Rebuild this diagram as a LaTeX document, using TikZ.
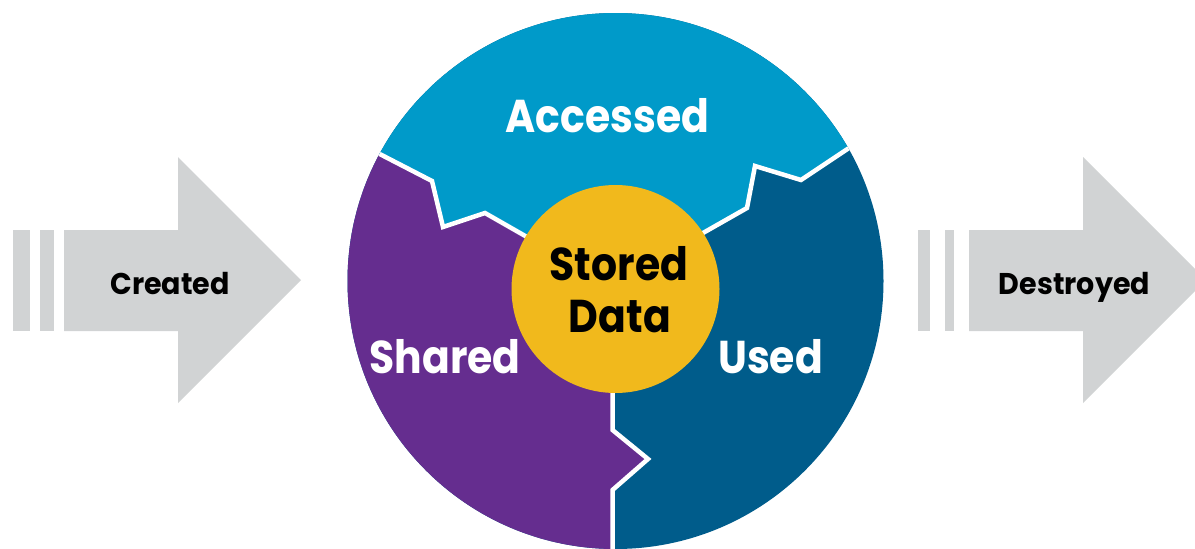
\documentclass[tikz,border=0pt]{standalone}
\usepackage{fontspec}
\setmainfont{Poppins}
\newfontfamily\bigfont{Poppins}[FakeStretch=0.89]
\newfontfamily\smallfont{Poppins}[FakeStretch=0.95]
\definecolor{accessblue}{HTML}{009AC9}
\definecolor{useblue}{HTML}{005C8B}
\definecolor{sharepurple}{HTML}{652D8F}
\definecolor{storeyellow}{HTML}{F1B91C}
\definecolor{arrowgray}{HTML}{D1D3D4}
\tikzset{
  stagearrow/.style={fill=arrowgray, draw=none},
  seam/.style={draw=white, line width=4.5pt, line join=miter},
  ringlabel/.style={text=white, font=\bigfont\bfseries\fontsize{46}{46}\selectfont, inner sep=0pt, anchor=base},
  corelabel/.style={text=black, font=\bigfont\bfseries\fontsize{46}{46}\selectfont, inner sep=0pt, anchor=base},
  arrowlabel/.style={text=black, font=\smallfont\bfseries\fontsize{30}{30}\selectfont, inner sep=0pt, anchor=base}
}
\begin{document}
\begin{tikzpicture}[x=1pt, y=-1pt]
  \useasboundingbox (0,0) rectangle (1195,549);
  \clip (0,0) rectangle (1195,549);

  % incoming arrow
  \fill[stagearrow] (13,230) rectangle (30,331);
  \fill[stagearrow] (40,230) rectangle (54,331);
  \fill[stagearrow] (64,230) -- (178,230) -- (178,157) -- (301,280)
                    -- (178,403) -- (178,331) -- (64,331) -- cycle;
  % outgoing arrow
  \fill[stagearrow] (918,230) rectangle (930,331);
  \fill[stagearrow] (945,230) rectangle (954,331);
  \fill[stagearrow] (969,230) -- (1083,230) -- (1083,157) -- (1206,280)
                    -- (1083,403) -- (1083,331) -- (969,331) -- cycle;

  % seam points
  \coordinate (core) at (615.5,289);
  \coordinate (a1) at (370,149);
  \coordinate (a2) at (432,181);
  \coordinate (a3) at (443,227);
  \coordinate (a4) at (485,213);
  \coordinate (a5) at (527,237);
  \coordinate (b1) at (858,142);
  \coordinate (b2) at (801,180);
  \coordinate (b3) at (755,166);
  \coordinate (b4) at (747,208);
  \coordinate (b5) at (703,233);
  \coordinate (c1) at (612.5,289);
  \coordinate (c2) at (612.5,430);
  \coordinate (c3) at (648,459);
  \coordinate (c4) at (612.5,490);
  \coordinate (c5) at (612.5,570);

  % the ring
  \begin{scope}
    \clip (615.5,281) circle [radius=268];
    \fill[useblue] (615.5,281) circle [radius=270];
    \fill[accessblue] (a1) -- (a2) -- (a3) -- (a4) -- (a5) -- (core)
        -- (b5) -- (b4) -- (b3) -- (b2) -- (b1) -- (858,-10) -- (370,-10) -- cycle;
    \fill[sharepurple] (a1) -- (a2) -- (a3) -- (a4) -- (a5) -- (core) -- (c1)
        -- (c2) -- (c3) -- (c4) -- (c5) -- (330,570) -- (330,149) -- cycle;
    \draw[seam] (a1) -- (a2) -- (a3) -- (a4) -- (a5) -- (core);
    \draw[seam] (b1) -- (b2) -- (b3) -- (b4) -- (b5) -- (core);
    \draw[seam] (c1) -- (c2) -- (c3) -- (c4) -- (c5);
  \end{scope}

  % centre disc
  \fill[storeyellow] (615.5,289) circle [radius=104];

  % labels
  \node[ringlabel] (accessed) at (607.4,132.3) {Accessed};
  \node[ringlabel] (shared) at (445,373.5) {Shared};
  \node[ringlabel] (used) at (770.5,373.5) {Used};
  \node[corelabel] (stored) at (619,280) {Stored};
  \node[corelabel] (data) at (619.9,332) {Data};
  \node[arrowlabel] (created) at (170,294.3) {Created};
  \node[arrowlabel] (destroyed) at (1074.5,294.3) {Destroyed};
\end{tikzpicture}
\end{document}
